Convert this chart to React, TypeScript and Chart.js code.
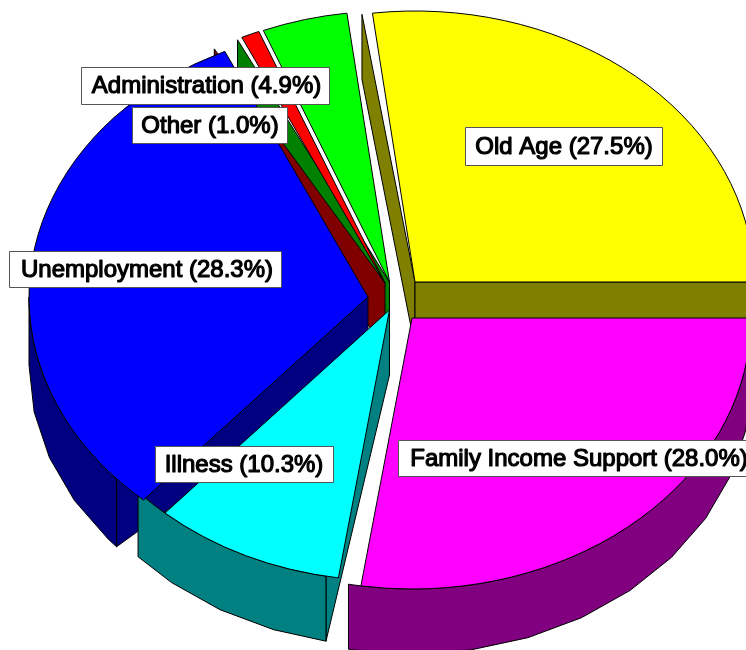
import { useEffect, useRef } from "react";
import { Chart, registerables } from "chart.js";

Chart.register(...registerables);

const categories = ["Old Age", "Family Income Support", "Illness", "Unemployment", "Other", "Administration"];
const shares = [27.5, 28.0, 10.3, 28.3, 1.0, 4.9];
const faceColors = ["#ffff00", "#ff00ff", "#00ffff", "#0000ff", "#ff0000", "#00ff00"];
const wallColors = ["#808000", "#800080", "#008080", "#000080", "#800000", "#008000"];

// Drawing configuration (not data)
const RX = 339 / 325;
const RY = 271 / 325;
const depths = [65, 65, 65, 68, 65, 65];
const explode: [number, number][] = [
  [42, -43],
  [39, -7],
  [16.5, -15],
  [-5, -28],
  [12, -42],
  [16.5, -43],
];
const wallOrder = [5, 4, 0, 3, 2, 1];
const labelBoxes: [number, number, number, number][] = [
  [465, 127, 197, 38],
  [398, 440, 362, 36],
  [155, 446, 178, 36],
  [9, 251, 272, 36],
  [132, 107, 155, 36],
  [81, 67, 248, 37],
];
const labelShift = [0.5, 0, 0, 2, 0.5, 1.5];

const deg = (d: number) => (d * Math.PI) / 180;

function rimPoints(ax: number, ay: number, rx: number, ry: number, a: number, b: number, step: number) {
  const ts = [a];
  for (let k = Math.floor(a / step) + 1; k * step < b - 1e-6; k++) ts.push(k * step);
  ts.push(b);
  return ts.map((t) => [ax + rx * Math.cos(t), ay + ry * Math.sin(t)] as [number, number]);
}

function polarToParam(theta: number, rx: number, ry: number) {
  const t = Math.atan2(rx * Math.sin(theta), ry * Math.cos(theta));
  return t + Math.round((theta - t) / (2 * Math.PI)) * 2 * Math.PI;
}

function fillPoly(ctx: CanvasRenderingContext2D, pts: [number, number][], fill: string) {
  ctx.beginPath();
  pts.forEach((p, i) => (i ? ctx.lineTo(p[0], p[1]) : ctx.moveTo(p[0], p[1])));
  ctx.closePath();
  ctx.fillStyle = fill;
  ctx.fill();
  ctx.stroke();
}

const pie3d = {
  id: "pie3d",
  beforeDatasetDraw(chart: any) {
    const ctx: CanvasRenderingContext2D = chart.ctx;
    const arcs = chart.getDatasetMeta(0).data;
    ctx.save();
    ctx.strokeStyle = "#000";
    ctx.lineWidth = 1;
    ctx.lineJoin = "round";

    const geom = (i: number) => {
      const el = arcs[i];
      return {
        ax: el.x + explode[i][0],
        ay: el.y + explode[i][1],
        rx: el.outerRadius * RX,
        ry: el.outerRadius * RY,
        a: el.startAngle,
        b: el.endAngle,
      };
    };

    for (const i of wallOrder) {
      const { ax, ay, rx, ry, a, b } = geom(i);
      const color = wallColors[i];
      const d = depths[i];
      // cut faces turned toward the viewer
      const cut = (theta: number, normal: number) => {
        if (Math.sin(normal) <= 0) return;
        const x = ax + rx * Math.cos(theta);
        const y = ay + ry * Math.sin(theta);
        fillPoly(ctx, [[ax, ay], [x, y], [x, y + d], [ax, ay + d]], color);
      };
      cut(a, a - Math.PI / 2);
      cut(b, b + Math.PI / 2);
      // outer wall: smooth upper rim, coarse lower rim
      const s = Math.max(a, 0);
      const e = Math.min(b, Math.PI);
      if (e > s) {
        const top = rimPoints(ax, ay, rx, ry, s, e, deg(2));
        const low = rimPoints(ax, ay + d, rx, ry, s, e, deg(10)).reverse();
        fillPoly(ctx, [...top, ...low], color);
      }
    }

    arcs.forEach((el: any, i: number) => {
      const { ax, ay, rx, ry, a, b } = geom(i);
      ctx.beginPath();
      ctx.moveTo(ax, ay);
      ctx.ellipse(ax, ay, rx, ry, 0, polarToParam(a, rx, ry), polarToParam(b, rx, ry));
      ctx.closePath();
      ctx.fillStyle = faceColors[i];
      ctx.fill();
      ctx.stroke();
    });
    ctx.restore();
    return false;
  },
  afterDraw(chart: any) {
    const ctx: CanvasRenderingContext2D = chart.ctx;
    ctx.save();
    ctx.font = '24px "Liberation Sans"';
    ctx.textAlign = "center";
    ctx.textBaseline = "middle";
    ctx.lineJoin = "round";
    categories.forEach((name, i) => {
      const [x, y, w, h] = labelBoxes[i];
      ctx.fillStyle = "#fff";
      ctx.fillRect(x, y, w, h);
      ctx.strokeStyle = "#555";
      ctx.lineWidth = 1;
      ctx.strokeRect(x + 0.5, y + 0.5, w, h);
      const text = `${name} (${shares[i].toFixed(1)}%)`;
      const tx = x + w / 2 + labelShift[i];
      ctx.fillStyle = "#000";
      ctx.strokeStyle = "#000";
      ctx.lineWidth = 1.2;
      ctx.fillText(text, tx, y + h / 2 + 1);
      ctx.strokeText(text, tx, y + h / 2 + 1);
    });
    ctx.restore();
  },
};

export default function App() {
  const ref = useRef<HTMLCanvasElement>(null);
  useEffect(() => {
    const chart = new Chart(ref.current!, {
      type: "pie",
      data: {
        labels: categories,
        datasets: [{ data: shares, backgroundColor: faceColors, borderWidth: 0 }],
      },
      options: {
        animation: false,
        responsive: false,
        rotation: -9,
        plugins: { legend: { display: false }, tooltip: { enabled: false } },
      },
      plugins: [pie3d],
    } as any);
    return () => chart.destroy();
  }, []);
  return (
    <div style={{ position: "absolute", left: 0, top: 0 }}>
      <canvas ref={ref} width={746} height={650} style={{ display: "block" }} />
    </div>
  );
}
